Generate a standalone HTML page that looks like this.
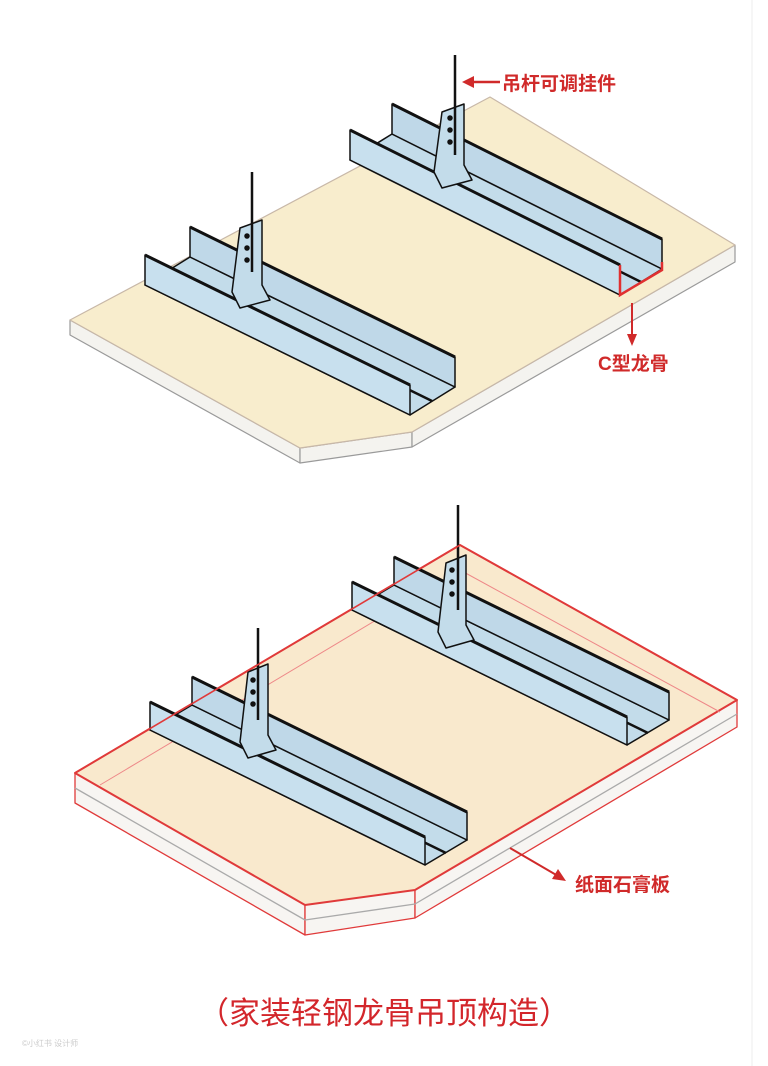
<!DOCTYPE html>
<html><head><meta charset="utf-8"><style>
html,body{margin:0;padding:0;background:#fff;}
svg{display:block}
text{font-family:"Liberation Sans","Noto Sans CJK SC",sans-serif;}
</style></head><body>
<svg width="768" height="1066" viewBox="0 0 768 1066" xmlns="http://www.w3.org/2000/svg">
<rect width="768" height="1066" fill="#fff"/>
<line x1="752" y1="0" x2="752" y2="1066" stroke="#eee" stroke-width="1"/>
<!-- TOP BOARD -->
<g stroke="#9a9a9a" stroke-width="1.2" stroke-linejoin="round">
<polygon points="70,320 300,448 300,463 70,335" fill="#f4f3ef"/>
<polygon points="300,448 412,432 412,447 300,463" fill="#f4f3ef"/>
<polygon points="412,432 735,245 735,262 412,447" fill="#f4f3ef"/>
<polygon points="70,320 490,97 735,245 412,432 300,448" fill="#f8edcd" stroke="#c8b8a8"/>
</g>
<!-- top left channel -->
<g stroke="#111" stroke-width="1.5" stroke-linejoin="round">
<polygon points="145,285 190,257 455,387 410,415" fill="#c3dcea"/>
<polygon points="190,257 190,227 455,357 455,387" fill="#bfd8e8"/>
<line x1="167" y1="271" x2="432" y2="401" stroke-width="2.5"/>
<line x1="190" y1="227" x2="455" y2="357" stroke-width="3"/>
<polygon points="145,285 145,255 410,385 410,415" fill="#c8e0ee"/>
<line x1="145" y1="255" x2="410" y2="385" stroke-width="3"/>
<polygon points="240,228 262,220 262,285 270,300 240,308 232,292" fill="#c3dcea"/>
<line x1="252" y1="172" x2="252" y2="272" stroke-width="2.5"/>
<circle cx="247" cy="236" r="2" fill="#111"/><circle cx="247" cy="248" r="2" fill="#111"/><circle cx="247" cy="260" r="2" fill="#111"/>
</g>
<!-- top right channel -->
<g stroke="#111" stroke-width="1.5" stroke-linejoin="round">
<polygon points="350,160 392,134 662,269 620,295" fill="#c3dcea"/>
<polygon points="392,134 392,104 662,239 662,269" fill="#bfd8e8"/>
<line x1="371" y1="147" x2="641" y2="282" stroke-width="2.5"/>
<line x1="392" y1="104" x2="662" y2="239" stroke-width="3"/>
<polygon points="350,160 350,130 620,265 620,295" fill="#c8e0ee"/>
<line x1="350" y1="130" x2="620" y2="265" stroke-width="3"/>
<polygon points="442,112 464,104 464,165 472,180 442,188 434,172" fill="#c3dcea"/>
<line x1="455" y1="55" x2="455" y2="155" stroke-width="2.5"/>
<circle cx="450" cy="118" r="2" fill="#111"/><circle cx="450" cy="130" r="2" fill="#111"/><circle cx="450" cy="142" r="2" fill="#111"/>
</g>
<!-- red marks top -->
<polyline points="620,265 620,295 662,270 662,262" fill="none" stroke="#e03030" stroke-width="2.5"/>
<line x1="500" y1="82" x2="470" y2="82" stroke="#d02a2a" stroke-width="2.5"/>
<polygon points="462,82 474,76 474,88" fill="#d02a2a"/>
<text x="502" y="90" font-size="19" font-weight="bold" fill="#d02a2a">吊杆可调挂件</text>
<line x1="632" y1="303" x2="632" y2="336" stroke="#d02a2a" stroke-width="2"/>
<polygon points="632,346 627,334 637,334" fill="#d02a2a"/>
<text x="598" y="370" font-size="19" font-weight="bold" fill="#d02a2a">C型龙骨</text>

<!-- BOTTOM BOARD -->
<g stroke="#e03a3a" stroke-width="1.3" stroke-linejoin="round">
<polygon points="75,773 305,905 305,935 75,803" fill="#f7f5f2"/>
<polygon points="305,905 415,890 415,918 305,935" fill="#f7f5f2"/>
<polygon points="415,890 737,700 737,727 415,918" fill="#f7f5f2"/>
<line x1="75" y1="788" x2="305" y2="920" stroke="#aaa"/>
<line x1="305" y1="920" x2="415" y2="904" stroke="#aaa"/>
<line x1="415" y1="904" x2="737" y2="714" stroke="#aaa"/>
<polygon points="75,773 460,545 737,700 415,890 305,905" fill="#f9e9cd" stroke-width="2"/>
<polyline points="100,785 460,570 720,712" fill="none" stroke="#e88" stroke-width="1"/>
</g>
<!-- bottom left channel -->
<g stroke="#111" stroke-width="1.5" stroke-linejoin="round">
<polygon points="150,730 192,705 467,840 425,865" fill="#c3dcea"/>
<polygon points="192,705 192,677 467,812 467,840" fill="#bfd8e8"/>
<line x1="171" y1="718" x2="446" y2="853" stroke-width="2.5"/>
<line x1="192" y1="677" x2="467" y2="812" stroke-width="3"/>
<polygon points="150,730 150,702 425,837 425,865" fill="#c8e0ee"/>
<line x1="150" y1="702" x2="425" y2="837" stroke-width="3"/>
<polygon points="248,672 268,664 268,735 276,750 248,758 240,742" fill="#c3dcea"/>
<line x1="258" y1="628" x2="258" y2="720" stroke-width="2.5"/>
<circle cx="253" cy="680" r="2" fill="#111"/><circle cx="253" cy="692" r="2" fill="#111"/><circle cx="253" cy="704" r="2" fill="#111"/>
</g>
<!-- bottom right channel -->
<g stroke="#111" stroke-width="1.5" stroke-linejoin="round">
<polygon points="352,610 394,585 669,720 627,745" fill="#c3dcea"/>
<polygon points="394,585 394,557 669,692 669,720" fill="#bfd8e8"/>
<line x1="373" y1="598" x2="648" y2="733" stroke-width="2.5"/>
<line x1="394" y1="557" x2="669" y2="692" stroke-width="3"/>
<polygon points="352,610 352,582 627,717 627,745" fill="#c8e0ee"/>
<line x1="352" y1="582" x2="627" y2="717" stroke-width="3"/>
<polygon points="446,563 466,555 466,625 474,640 446,648 438,632" fill="#c3dcea"/>
<line x1="458" y1="505" x2="458" y2="610" stroke-width="2.5"/>
<circle cx="452" cy="570" r="2" fill="#111"/><circle cx="452" cy="582" r="2" fill="#111"/><circle cx="452" cy="594" r="2" fill="#111"/>
</g>
<polyline points="75,773 460,545 737,700" fill="none" stroke="#e03a3a" stroke-width="1.6"/>
<line x1="510" y1="848" x2="558" y2="876" stroke="#d02a2a" stroke-width="2"/>
<polygon points="566,881 552,879 558,869" fill="#d02a2a"/>
<text x="575" y="891" font-size="19" font-weight="bold" fill="#d02a2a">纸面石膏板</text>

<text x="384" y="1024" font-size="31" fill="#d3262b" text-anchor="middle">（家装轻钢龙骨吊顶构造）</text>
<text x="22" y="1046" font-size="8" fill="#ccc">©小红书 设计师</text>
</svg>
</body></html>
